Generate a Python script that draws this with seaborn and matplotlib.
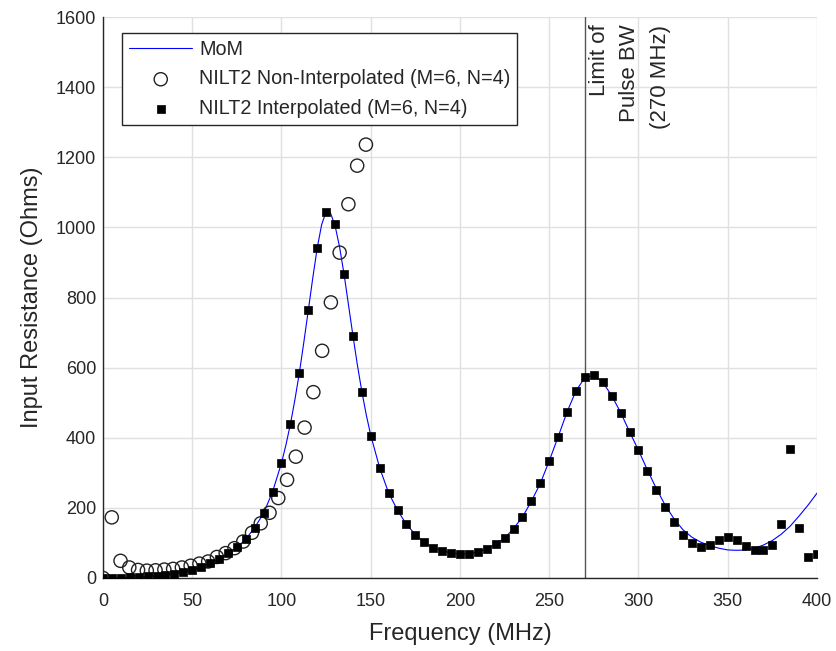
import numpy as np
import pandas as pd
import matplotlib
matplotlib.use("Agg")
import matplotlib.pyplot as plt
import seaborn as sns

# Method-of-moments reference curve (MHz, Ohms)
mom_freq = [0, 5, 10, 15, 20, 25, 30, 35, 40, 45, 50, 55, 60, 65, 70, 75, 80, 85, 90, 95,
            100, 102.5, 105, 107.5, 110, 112.5, 115, 117.5, 120, 122.5, 125, 127.5, 130,
            132.5, 135, 137.5, 140, 142.5, 145, 147.5, 150, 155, 160, 165, 170, 175, 180,
            185, 190, 195, 200, 205, 210, 215, 220, 225, 230, 235, 240, 245, 250, 255, 260,
            265, 270, 275, 280, 285, 290, 295, 300, 305, 310, 315, 320, 325, 330, 335, 340,
            345, 350, 355, 360, 365, 370, 375, 380, 385, 390, 395, 400]
mom_res = [0, 0, 1, 2, 3, 5, 7, 9, 12, 16, 22, 31, 42, 54, 70, 87, 111, 144, 185, 246,
           328, 380, 439, 508, 585, 672, 763, 855, 941, 1008, 1045, 1040, 1005,
           945, 868, 780, 692, 608, 532, 465, 407, 314, 243, 193, 153, 124, 102,
           86, 78, 71, 69, 69, 75, 82, 97, 114, 141, 174, 219, 270, 334, 403, 474,
           534, 572, 578, 558, 520, 472, 417, 364, 308, 255, 207, 168, 137, 116, 102, 92,
           85, 80, 79, 80, 85, 94, 107, 125, 148, 177, 208, 242]

# NILT2 without interpolation (coarse frequency grid)
nonint_freq = [0, 4.91, 9.82, 14.73, 19.64, 24.55, 29.46, 34.37, 39.28, 44.19, 49.1,
               54.01, 58.92, 63.83, 68.74, 73.65, 78.56, 83.47, 88.38, 93.29, 98.2,
               103.11, 108.02, 112.93, 117.84, 122.75, 127.66, 132.57, 137.48, 142.39, 147.3]
nonint_res = [0, 173, 49, 30, 23, 21, 22, 24, 26, 30, 35,
              41, 47, 60, 71, 85, 104, 129, 156, 186, 228,
              280, 346, 429, 530, 648, 786, 928, 1066, 1176, 1236]

# NILT2 with interpolation
interp_freq = [0, 5, 10, 15, 20, 25, 30, 35, 40, 45, 50, 55, 60, 65, 70, 75, 80, 85, 90, 95,
               100, 105, 110, 115, 120, 125, 130, 135, 140, 145, 150, 155, 160, 165, 170, 175,
               180, 185, 190, 195, 200, 205, 210, 215, 220, 225, 230, 235, 240, 245, 250, 255,
               260, 265, 270, 275, 280, 285, 290, 295, 300, 305, 310, 315, 320, 325, 330, 335,
               340, 345, 350, 355, 360, 365, 370, 375, 380, 385, 390, 395, 400]
interp_res = [0, 0, 1, 2, 3, 5, 7, 9, 12, 16, 22, 31, 43, 54, 71, 87, 111, 144, 185, 246,
              328, 439, 586, 763, 941, 1043, 1010, 868, 691, 531, 406, 314, 243, 193, 153, 124,
              102, 86, 78, 71, 69, 69, 75, 82, 97, 114, 141, 174, 219, 270, 334, 403,
              474, 534, 572, 579, 558, 520, 472, 417, 364, 306, 252, 202, 160, 124, 100, 88,
              93, 109, 118, 109, 90, 79, 79, 93, 153, 367, 144, 59, 68]

bw_limit = 270

sns.set_theme(style="whitegrid")
plt.rcParams["font.family"] = ["Liberation Sans", "DejaVu Sans"]

fig = plt.figure(figsize=(8.37, 6.51), dpi=100)
ax = fig.add_axes([103 / 837, 1 - 578 / 651, 714 / 837, 561 / 651])

sns.lineplot(x=mom_freq, y=mom_res, ax=ax, color="#0000ff", linewidth=0.8,
             label="MoM", zorder=3)
sns.scatterplot(x=nonint_freq, y=nonint_res, ax=ax, marker="o", s=90,
                facecolors="none", edgecolor="#222222", linewidth=1.0,
                label="NILT2 Non-Interpolated (M=6, N=4)", zorder=4)
sns.scatterplot(x=interp_freq, y=interp_res, ax=ax, marker="s", s=36,
                color="black", edgecolor="black", linewidth=0.5,
                label="NILT2 Interpolated (M=6, N=4)", zorder=5)

ax.axvline(bw_limit, color="#555555", linewidth=1.0, zorder=2)
ax.text(bw_limit + 2.0, 1578, "Limit of\nPulse BW\n(270 MHz)", rotation=90,
        ha="left", va="top", multialignment="right", fontsize=16, color="#262626",
        linespacing=1.6)

ax.set_xlim(0, 400)
ax.set_ylim(0, 1600)
ax.set_xticks(np.arange(0, 401, 50))
ax.set_yticks(np.arange(0, 1601, 200))
ax.grid(True, color="#e0e0e0", linewidth=1.0)
ax.set_axisbelow(True)
for side in ["top", "right"]:
    ax.spines[side].set_visible(False)
for side in ["left", "bottom"]:
    ax.spines[side].set_color("#262626")
    ax.spines[side].set_linewidth(1.0)
ax.tick_params(axis="both", direction="in", length=6, width=1.0, color="#262626",
               labelsize=13, labelcolor="#262626")
ax.tick_params(axis="x", pad=11)
ax.tick_params(axis="y", pad=5)
ax.set_xlabel("Frequency (MHz)", fontsize=17, color="#262626", labelpad=9)
ax.set_ylabel("Input Resistance (Ohms)", fontsize=17, color="#262626", labelpad=9)

leg = ax.legend(loc="upper left", bbox_to_anchor=(0.027, 0.971), borderaxespad=0,
                fontsize=14.2, frameon=True, fancybox=False, framealpha=1,
                edgecolor="#262626", handlelength=3.2, borderpad=0.35,
                labelspacing=0.52, handletextpad=0.35)
leg.get_frame().set_linewidth(1.0)

fig.savefig("out.png", dpi=100)
